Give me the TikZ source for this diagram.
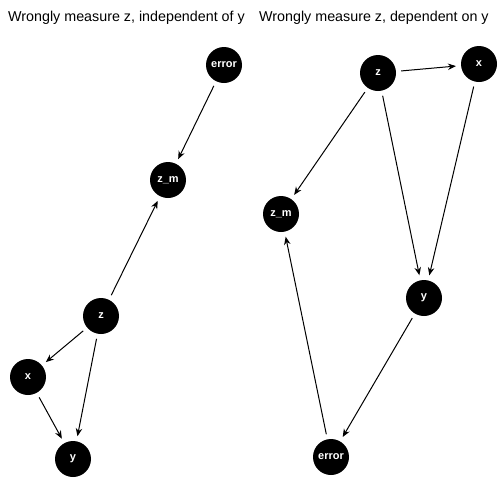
\documentclass[tikz,border=0pt]{standalone}
\usepackage{fontspec}
\setmainfont{Liberation Sans}
\usetikzlibrary{arrows.meta}
\begin{document}
\begin{tikzpicture}[x=1pt,y=-1pt,
  dagnode/.style={circle,fill=black,minimum size=36pt,inner sep=0pt,text=white,font=\fontsize{11}{13}\selectfont\bfseries},
  edge/.style={-{Stealth[length=8pt,width=6.5pt]},line width=1pt,shorten >=5pt,shorten <=5pt},
  title/.style={anchor=west,font=\fontsize{14.3}{17}\selectfont,inner sep=0pt}]
\useasboundingbox (0,0) rectangle (504,504);
\node[title] (t1) at (8,18) {Wrongly measure z, independent of y};
\node[title] (t2) at (259,18) {Wrongly measure z, dependent on y};
% left
\node[dagnode] (le) at (224,65) {error};
\node[dagnode] (lzm) at (168,180) {z\_m};
\node[dagnode] (lz) at (101,316) {z};
\node[dagnode] (lx) at (28,377) {x};
\node[dagnode] (ly) at (73,459) {y};
\draw[edge] (le) -- (lzm);
\draw[edge] (lz) -- (lzm);
\draw[edge] (lz) -- (lx);
\draw[edge] (lz) -- (ly);
\draw[edge] (lx) -- (ly);
% right
\node[dagnode] (rz) at (378,73) {z};
\node[dagnode] (rx) at (479,64) {x};
\node[dagnode] (rzm) at (281,214) {z\_m};
\node[dagnode] (ry) at (424,298) {y};
\node[dagnode] (re) at (331,457) {error};
\draw[edge] (rz) -- (rx);
\draw[edge] (rz) -- (rzm);
\draw[edge] (rz) -- (ry);
\draw[edge] (rx) -- (ry);
\draw[edge] (ry) -- (re);
\draw[edge] (re) -- (rzm);
\end{tikzpicture}
\end{document}
